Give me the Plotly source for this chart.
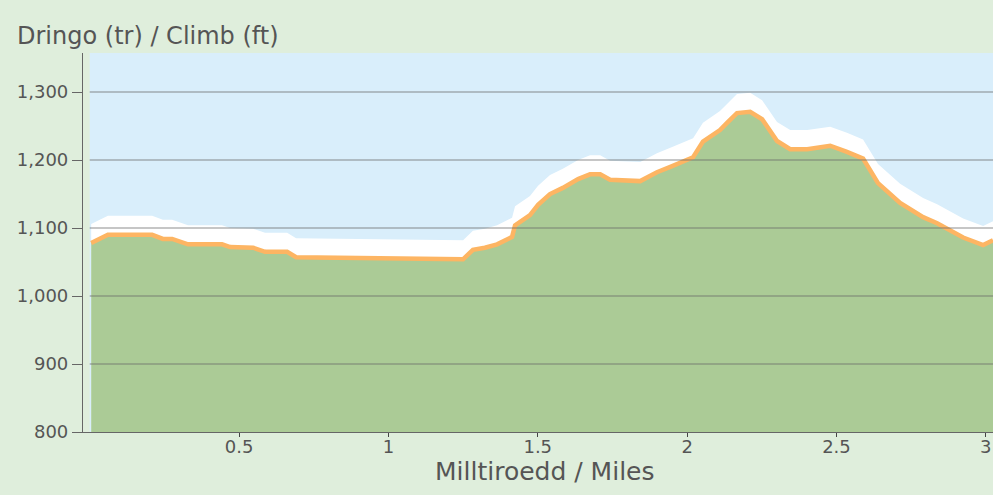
import plotly.graph_objects as go

# Distance (miles) and elevation (ft)
miles = [0.005, 0.061, 0.209, 0.245, 0.276, 0.329, 0.443, 0.470, 0.547, 0.587,
         0.661, 0.691, 1.250, 1.283, 1.323, 1.364, 1.414, 1.424, 1.474, 1.501,
         1.541, 1.584, 1.635, 1.675, 1.709, 1.742, 1.843, 1.899, 1.950, 2.020,
         2.053, 2.110, 2.137, 2.167, 2.211, 2.251, 2.301, 2.345, 2.402, 2.479,
         2.535, 2.589, 2.639, 2.713, 2.790, 2.837, 2.924, 2.991, 3.024]
elev_ft = [1078, 1090, 1090, 1084, 1084, 1076, 1076, 1072, 1071, 1065,
           1065, 1057, 1054, 1068, 1071, 1076, 1087, 1104, 1119, 1134,
           1150, 1159, 1172, 1179, 1179, 1171, 1169, 1182, 1191, 1204,
           1227, 1244, 1256, 1269, 1271, 1260, 1228, 1216, 1216, 1221,
           1212, 1202, 1166, 1137, 1116, 1107, 1086, 1075, 1082]
halo_offset_ft = 28

y_tickvals = [800, 900, 1000, 1100, 1200, 1300]
y_ticktext = ["800", "900", "1,000", "1,100", "1,200", "1,300"]
x_tickvals = [0.5, 1, 1.5, 2, 2.5, 3]
x_ticktext = ["0.5", "1", "1.5", "2", "2.5", "3"]
grid_vals = [900, 1000, 1100, 1200, 1300]

title_text = "Dringo (tr) / Climb (ft)"
x_title_text = "Milltiroedd / Miles"

PAGE_BG = "#DFEEDC"
PLOT_BG = "#D9EEFB"
GREEN = "#ABCB96"
ORANGE = "#FDB563"
TEXT = "#555555"
FONT = "DejaVu Sans"

halo = [v + halo_offset_ft for v in elev_ft]

fig = go.Figure()
fig.add_trace(go.Scatter(x=miles, y=halo, mode="lines", line=dict(width=0, color="white"),
                         fill="tozeroy", fillcolor="white", hoverinfo="skip", showlegend=False))
fig.add_trace(go.Scatter(x=miles, y=elev_ft, mode="lines",
                         line=dict(width=4.5, color=ORANGE),
                         fill="tozeroy", fillcolor=GREEN, showlegend=False))

# blue plot background starting at x = 0
fig.add_shape(type="rect", xref="x", yref="paper", x0=0, x1=3.1, y0=0, y1=1,
              fillcolor=PLOT_BG, line=dict(width=0), layer="below")
for g in grid_vals:
    fig.add_shape(type="line", xref="x", yref="y", x0=0, x1=3.1, y0=g, y1=g,
                  line=dict(color="rgba(105,105,105,0.5)", width=1.6), layer="above")

fig.update_layout(
    width=993, height=495,
    margin=dict(l=83, r=0, t=53, b=63),
    paper_bgcolor=PAGE_BG, plot_bgcolor=PAGE_BG,
    font=dict(family=FONT, color=TEXT, size=18),
    title=dict(text=title_text, xref="container", yref="container",
               x=17 / 993, xanchor="left", y=1 - 36 / 495, yanchor="middle",
               font=dict(family=FONT, size=24, color=TEXT)),
    annotations=[dict(text=x_title_text, xref="paper", yref="paper",
                      x=(544 - 83) / 910, y=(432 - 471) / 379, xanchor="center", yanchor="middle",
                      showarrow=False, font=dict(family=FONT, size=25, color=TEXT))],
    xaxis=dict(range=[-0.0224, 3.024], tickvals=x_tickvals, ticktext=x_ticktext,
               showgrid=False, zeroline=False, showline=True, linecolor="#666666", linewidth=1.2,
               ticks="outside", ticklen=4, tickcolor="#444444", ticklabelstandoff=-6,
               tickfont=dict(size=18, color=TEXT)),
    yaxis=dict(range=[800, 1357.4], tickvals=y_tickvals, ticktext=y_ticktext,
               showgrid=False, zeroline=False, showline=True, linecolor="#666666", linewidth=1.2,
               ticks="outside", ticklen=10, tickcolor="#666666", tickfont=dict(size=18, color=TEXT)),
)

fig.write_html("out.html",
               config={"displayModeBar": False},
               post_script="document.body.style.margin='0';document.body.style.padding='0';"
                           "document.body.style.overflow='hidden';")
